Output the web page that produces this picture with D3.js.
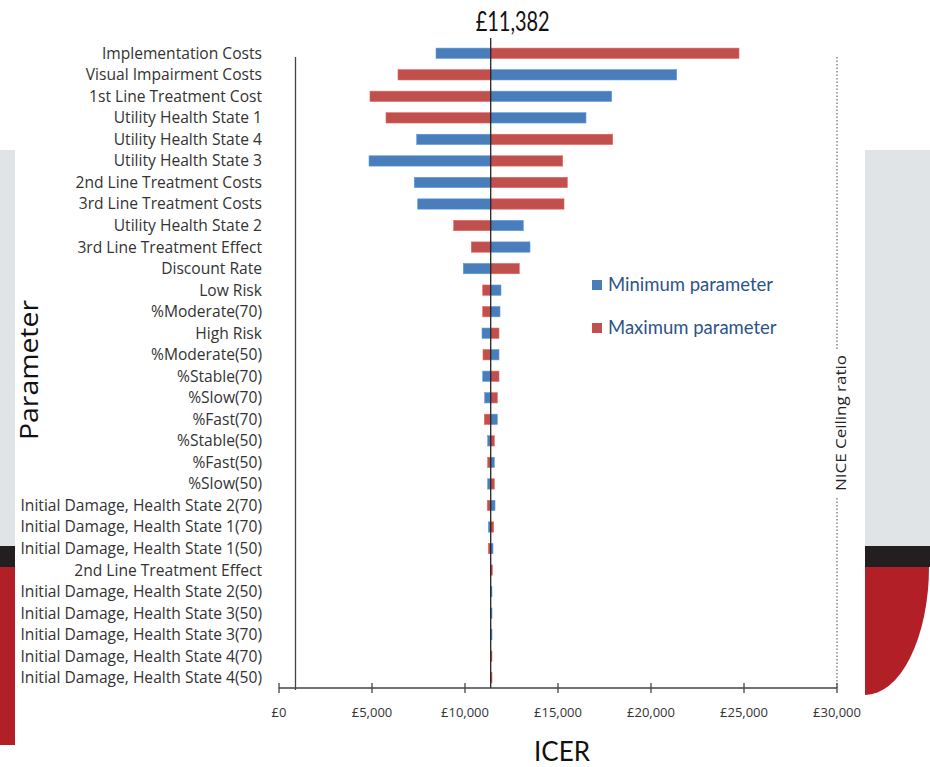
<!DOCTYPE html>
<html><head><meta charset="utf-8">
<script src="https://cdn.jsdelivr.net/npm/d3@7/dist/d3.min.js"></script>
<style>body{margin:0;background:#fff}svg{display:block}</style>
</head><body>
<svg id="c" width="930" height="767"></svg>
<script>
const params = ["Implementation Costs","Visual Impairment Costs","1st Line Treatment Cost","Utility Health State 1","Utility Health State 4","Utility Health State 3","2nd Line Treatment Costs","3rd Line Treatment Costs","Utility Health State 2","3rd Line Treatment Effect","Discount Rate","Low Risk","%Moderate(70)","High Risk","%Moderate(50)","%Stable(70)","%Slow(70)","%Fast(70)","%Stable(50)","%Fast(50)","%Slow(50)","Initial Damage, Health State 2(70)","Initial Damage, Health State 1(70)","Initial Damage, Health State 1(50)","2nd Line Treatment Effect","Initial Damage, Health State 2(50)","Initial Damage, Health State 3(50)","Initial Damage, Health State 3(70)","Initial Damage, Health State 4(70)","Initial Damage, Health State 4(50)"];
const minParam = [8441,21382,17887,16505,7403,4839,7274,7457,13134,13495,9909,11935,11882,10914,11828,10952,11059,11737,11220,11575,11220,11613,11253,11505,11382,11450,11450,11450,11382,11382];
const maxParam = [24731,6398,4892,5753,17941,15253,15500,15323,9392,10339,12919,10952,10952,11828,10968,11828,11737,11038,11575,11220,11575,11199,11543,11253,11470,11382,11382,11382,11450,11450];
const baseICER = 11382;
const ceiling = 30000;
const xTicks = [0,5000,10000,15000,20000,25000,30000];
const seriesNames = ["Minimum parameter","Maximum parameter"];
const colors = ["#4a7ebb","#c0504d"];

const svg = d3.select("#c");
const font = "'Open Sans', sans-serif";
const font2 = "Lato, 'Open Sans', sans-serif";

// decorative background
svg.append("rect").attr("x",0).attr("y",150).attr("width",15).attr("height",396).attr("fill","#e1e4e7");
svg.append("rect").attr("x",0).attr("y",546).attr("width",15).attr("height",21).attr("fill","#231f20");
svg.append("rect").attr("x",0).attr("y",567).attr("width",15).attr("height",178).attr("fill","#b31f27");
svg.append("rect").attr("x",865).attr("y",150).attr("width",65).attr("height",396).attr("fill","#e1e4e7");
svg.append("rect").attr("x",865).attr("y",546).attr("width",65).attr("height",21).attr("fill","#231f20");
svg.append("path").attr("d","M865,567 L929,567 A64,128 0 0 1 865,695 Z").attr("fill","#b31f27");

const x = d3.scaleLinear().domain([0,30000]).range([279,837]);
const y = d3.scaleBand().domain(params).range([42.5,688.5]).paddingInner(0.52).paddingOuter(0.26);

// y axis line
svg.append("line").attr("x1",295.5).attr("x2",295.5).attr("y1",57).attr("y2",690).attr("stroke","#444").attr("stroke-width",1.3);

// labels
svg.append("g").selectAll("text").data(params).join("text")
  .attr("x",262).attr("y",d=>y(d)+y.bandwidth()/2).attr("dy","0.35em")
  .attr("text-anchor","end").attr("font-family",font).attr("font-size",15.6).attr("fill","#333")
  .text(d=>d);

// bars
const rows = params.map((p,i)=>({p, vals:[minParam[i],maxParam[i]]}));
const g = svg.append("g");
[0,1].forEach(s=>{
  g.selectAll(".b"+s).data(rows).join("rect")
    .attr("x",d=>x(Math.min(baseICER,d.vals[s])))
    .attr("width",d=>Math.max(0,Math.abs(x(d.vals[s])-x(baseICER))))
    .attr("y",d=>y(d.p)).attr("height",y.bandwidth())
    .attr("fill",colors[s]).attr("stroke",d3.color(colors[s]).brighter(0.6)).attr("stroke-width",0.6);
});

// center line
svg.append("line").attr("x1",x(baseICER)).attr("x2",x(baseICER)).attr("y1",38).attr("y2",688)
  .attr("stroke","#222").attr("stroke-width",1.3);
svg.append("text").attr("x",x(baseICER)+22).attr("y",31).attr("text-anchor","middle")
  .attr("font-family",font2).attr("font-size",27).attr("fill","#111")
  .attr("textLength",74).attr("lengthAdjust","spacingAndGlyphs").text("£11,382");

// ceiling line
svg.append("line").attr("x1",x(ceiling)).attr("x2",x(ceiling)).attr("y1",57).attr("y2",688)
  .attr("stroke","#888").attr("stroke-width",1.5).attr("stroke-dasharray","1.5,2");
svg.append("rect").attr("x",x(ceiling)-3).attr("y",351).attr("width",14).attr("height",145).attr("fill","#fff");
svg.append("text").attr("transform",`translate(${x(ceiling)+9},423) rotate(-90)`).attr("text-anchor","middle")
  .attr("font-family",font).attr("font-size",14).attr("fill","#222")
  .attr("textLength",136).attr("lengthAdjust","spacingAndGlyphs").text("NICE Ceiling ratio");

// x axis
const axisY = 688;
svg.append("line").attr("x1",x(0)).attr("x2",x(30000)).attr("y1",axisY).attr("y2",axisY).attr("stroke","#444").attr("stroke-width",1.3);
svg.append("g").selectAll("line").data(xTicks).join("line")
  .attr("x1",d=>x(d)).attr("x2",d=>x(d)).attr("y1",axisY-5).attr("y2",axisY+5).attr("stroke","#444").attr("stroke-width",1.3);
svg.append("g").selectAll("text").data(xTicks).join("text")
  .attr("x",d=>x(d)).attr("y",717).attr("text-anchor","middle")
  .attr("font-family",font).attr("font-size",13).attr("fill","#333")
  .text(d=>"£"+d3.format(",")(d));

// titles
svg.append("text").attr("x",562).attr("y",761).attr("text-anchor","middle")
  .attr("font-family",font2).attr("font-size",26).attr("fill","#111").text("ICER");
svg.append("text").attr("transform","translate(38,370) rotate(-90)").attr("text-anchor","middle")
  .attr("font-family",font).attr("font-size",25).attr("fill","#111")
  .attr("textLength",140).attr("lengthAdjust","spacingAndGlyphs").text("Parameter");

// legend
const lg = svg.append("g");
seriesNames.forEach((n,i)=>{
  const yy = 285 + i*43;
  lg.append("rect").attr("x",592).attr("y",yy-5).attr("width",10).attr("height",10).attr("fill",colors[i]);
  lg.append("text").attr("x",608).attr("y",yy).attr("dy","0.35em").attr("font-family",font2)
    .attr("font-size",18.5).attr("fill","#2d5487").text(n);
});
</script>
</body></html>
